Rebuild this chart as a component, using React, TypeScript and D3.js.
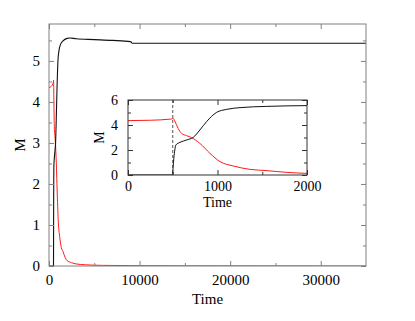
import React, { useEffect, useRef } from 'react'
import * as d3 from 'd3'

// red series (time, M)
const redTime = [0, 250, 486, 505, 523, 560, 598, 654, 710, 803, 916, 1028, 1177, 1364, 1551, 1775, 2000, 2500, 3000, 4000, 6000, 10000, 15000, 35000]
const redM = [4.35, 4.38, 4.48, 4.53, 4.32, 3.73, 3.33, 3.15, 2.99, 2.53, 1.73, 1.07, 0.72, 0.45, 0.35, 0.21, 0.13, 0.08, 0.05, 0.03, 0.015, 0.008, 0.004, 0]

// black series (time, M)
const blackTime = [0, 497, 505, 512, 523, 534, 580, 654, 729, 803, 878, 990, 1102, 1252, 1551, 2000, 2300, 3000, 5000, 7000, 9000, 9200, 20000, 35000]
const blackM = [0, 0, 0.7, 1.33, 2.0, 2.4, 2.61, 2.8, 3.01, 3.6, 4.27, 5.01, 5.25, 5.39, 5.49, 5.55, 5.56, 5.54, 5.52, 5.5, 5.47, 5.43, 5.43, 5.43]

const mainXTicks = [0, 10000, 20000, 30000]
const mainYTicks = [0, 1, 2, 3, 4, 5]
const insetXTicks = [0, 1000, 2000]
const insetYTicks = [0, 2, 4, 6]
const dashTime = 500

const FONT = '"Liberation Serif", "Times New Roman", serif'

const App = () => {
  const ref = useRef<SVGSVGElement>(null)

  useEffect(() => {
    const svg = d3.select(ref.current)
    svg.selectAll('*').remove()

    const red = redTime.map((t, i) => [t, redM[i]] as [number, number])
    const black = blackTime.map((t, i) => [t, blackM[i]] as [number, number])

    // main panel
    const m = { left: 49, right: 366, top: 24, bottom: 266 }
    const x = d3.scaleLinear().domain([0, 35000]).range([m.left, m.right])
    const y = d3.scaleLinear().domain([0, 5.9]).range([m.bottom, m.top])

    const drawAxes = (g, xs, ys, xt, yt, xMinor, yMinor, col, xPad, yPad, fs) => {
      const style = (sel) => {
        sel.attr('font-family', FONT).attr('font-size', fs)
        sel.select('.domain').remove()
        sel.selectAll('line').attr('stroke', col)
        sel.selectAll('text').style('font-family', FONT).style('font-size', fs + 'px').attr('fill', '#000')
      }
      const [x0, x1] = xs.range()
      const [y0, y1] = ys.range()
      g.append('g').attr('transform', `translate(0,${y0})`)
        .call(d3.axisBottom(xs).tickValues(xt).tickSizeInner(-5).tickSizeOuter(0).tickPadding(xPad).tickFormat(d3.format('d')))
        .call(style)
      g.append('g').attr('transform', `translate(0,${y1})`)
        .call(d3.axisTop(xs).tickValues(xt).tickSizeInner(-5).tickSizeOuter(0).tickFormat(() => ''))
        .call(style)
      g.append('g').attr('transform', `translate(${x0},0)`)
        .call(d3.axisLeft(ys).tickValues(yt).tickSizeInner(-5).tickSizeOuter(0).tickPadding(yPad).tickFormat(d3.format('d')))
        .call(style)
      g.append('g').attr('transform', `translate(${x1},0)`)
        .call(d3.axisRight(ys).tickValues(yt).tickSizeInner(-5).tickSizeOuter(0).tickFormat(() => ''))
        .call(style)
      // minor ticks, mirrored on all four sides
      g.append('g').attr('transform', `translate(0,${y0})`)
        .call(d3.axisBottom(xs).tickValues(xMinor).tickSizeInner(-3).tickSizeOuter(0).tickFormat(() => '')).call(style)
      g.append('g').attr('transform', `translate(0,${y1})`)
        .call(d3.axisTop(xs).tickValues(xMinor).tickSizeInner(-3).tickSizeOuter(0).tickFormat(() => '')).call(style)
      g.append('g').attr('transform', `translate(${x0},0)`)
        .call(d3.axisLeft(ys).tickValues(yMinor).tickSizeInner(-3).tickSizeOuter(0).tickFormat(() => '')).call(style)
      g.append('g').attr('transform', `translate(${x1},0)`)
        .call(d3.axisRight(ys).tickValues(yMinor).tickSizeInner(-3).tickSizeOuter(0).tickFormat(() => '')).call(style)
      g.append('rect')
        .attr('x', x0).attr('y', y1).attr('width', x1 - x0).attr('height', y0 - y1)
        .attr('fill', 'none').attr('stroke', col).attr('stroke-width', 1)
    }

    const main = svg.append('g')
    main.append('defs').append('clipPath').attr('id', 'clipMain')
      .append('rect').attr('x', m.left).attr('y', m.top).attr('width', m.right - m.left).attr('height', m.bottom - m.top)

    const lineMain = d3.line().x(d => x(d[0])).y(d => y(d[1])).curve(d3.curveMonotoneX)
    main.append('path').datum(red).attr('d', lineMain).attr('fill', 'none')
      .attr('stroke', '#ff1a1a').attr('stroke-width', 1).attr('clip-path', 'url(#clipMain)')
    main.append('path').datum(black).attr('d', lineMain).attr('fill', 'none')
      .attr('stroke', '#111').attr('stroke-width', 1.1).attr('clip-path', 'url(#clipMain)')

    drawAxes(main, x, y, mainXTicks, mainYTicks,
      [5000, 15000, 25000], [0.5, 1.5, 2.5, 3.5, 4.5, 5.5], '#808080', 8, 9, 15)

    main.append('text').attr('x', (m.left + m.right) / 2).attr('y', 304)
      .attr('text-anchor', 'middle').style('font-family', FONT).style('font-size', '15px').text('Time')
    main.append('text').attr('transform', `translate(25,${(m.top + m.bottom) / 2}) rotate(-90)`)
      .attr('text-anchor', 'middle').style('font-family', FONT).style('font-size', '15px').text('M')

    // inset panel
    const n = { left: 128, right: 307, top: 100, bottom: 175 }
    const xi = d3.scaleLinear().domain([0, 2000]).range([n.left, n.right])
    const yi = d3.scaleLinear().domain([0, 6]).range([n.bottom, n.top])
    const inset = svg.append('g')
    inset.append('rect').attr('x', n.left).attr('y', n.top).attr('width', n.right - n.left)
      .attr('height', n.bottom - n.top).attr('fill', '#fff')
    inset.append('defs').append('clipPath').attr('id', 'clipInset')
      .append('rect').attr('x', n.left).attr('y', n.top).attr('width', n.right - n.left).attr('height', n.bottom - n.top)

    inset.append('line').attr('x1', xi(dashTime)).attr('x2', xi(dashTime))
      .attr('y1', n.top).attr('y2', n.bottom).attr('stroke', '#555').attr('stroke-dasharray', '3,2')

    const lineInset = d3.line().x(d => xi(d[0])).y(d => yi(d[1])).curve(d3.curveMonotoneX)
    inset.append('path').datum(red).attr('d', lineInset).attr('fill', 'none')
      .attr('stroke', '#ff1a1a').attr('stroke-width', 1).attr('clip-path', 'url(#clipInset)')
    inset.append('path').datum(black).attr('d', lineInset).attr('fill', 'none')
      .attr('stroke', '#111').attr('stroke-width', 1).attr('clip-path', 'url(#clipInset)')

    drawAxes(inset, xi, yi, insetXTicks, insetYTicks, [500, 1500], [1, 3, 5], '#333', 6, 10, 14)

    inset.append('text').attr('x', (n.left + n.right) / 2).attr('y', 207)
      .attr('text-anchor', 'middle').style('font-family', FONT).style('font-size', '14px').text('Time')
    inset.append('text').attr('transform', `translate(104,${(n.top + n.bottom) / 2}) rotate(-90)`)
      .attr('text-anchor', 'middle').style('font-family', FONT).style('font-size', '14px').text('M')
  }, [])

  return (
    <svg ref={ref} width={415} height={321}
      style={{ position: 'absolute', left: 0, top: 0, background: '#fff' }} />
  )
}

export default App
